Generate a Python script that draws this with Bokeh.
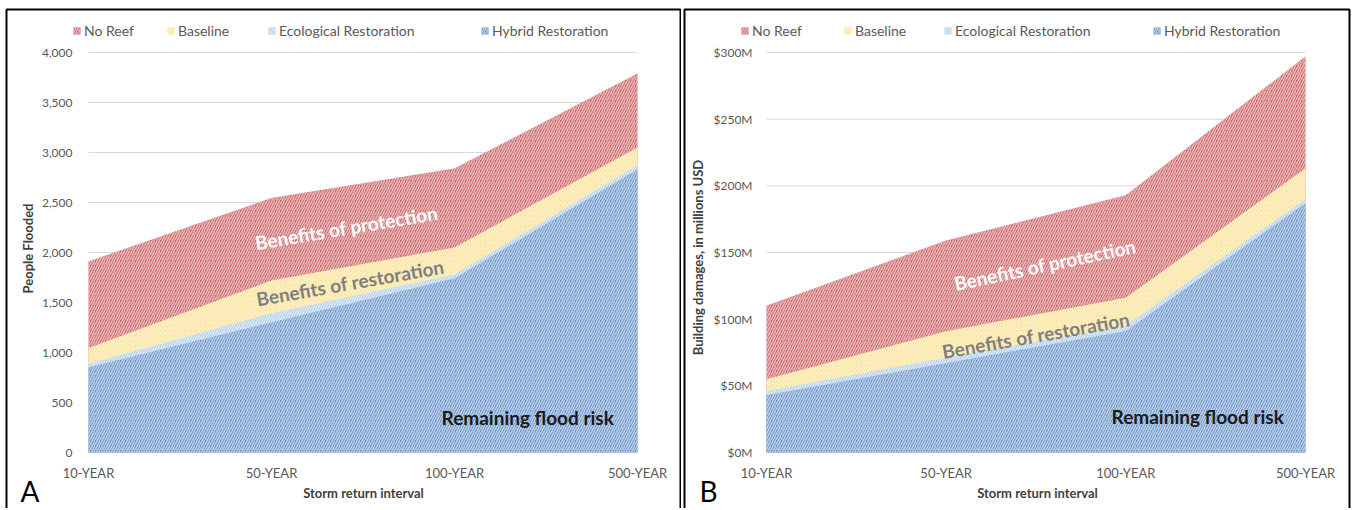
from bokeh.plotting import figure
from bokeh.models import (Range1d, FixedTicker, NumeralTickFormatter, LinearAxis, BoxAnnotation,
                          PrintfTickFormatter, Legend, LegendItem, Label, ColumnDataSource)
from bokeh.layouts import row
from bokeh.core.properties import value
from bokeh.embed import file_html
from bokeh.resources import INLINE

# ---------------- data ----------------
categories = ["10-YEAR", "50-YEAR", "100-YEAR", "500-YEAR"]
series_names = ["No Reef", "Baseline", "Ecological Restoration", "Hybrid Restoration"]

# Panel A: people flooded
people_no_reef = [1910, 2545, 2840, 3790]
people_baseline = [1045, 1720, 2050, 3050]
people_ecological = [885, 1390, 1780, 2870]
people_hybrid = [850, 1300, 1740, 2830]

# Panel B: building damages (millions USD)
damage_no_reef = [110, 159, 193, 297]
damage_baseline = [55, 91, 116, 213]
damage_ecological = [46, 71, 95, 190]
damage_hybrid = [43, 67, 91, 187]

yticks_a = [0, 500, 1000, 1500, 2000, 2500, 3000, 3500, 4000]
yticks_b = [0, 50, 100, 150, 200, 250, 300]

FONT = "Lato"
fill_colors = ["#cc5e60", "#fbe08f", "#aacdec", "#6490c8"]
H = 508


def make_panel(W, values, ymax, yticks, yfmt, ylabel, xzero_px, xmax_px, ylabel_px,
               xlabel_px, legend_px, letter, letter_px, border_px, ystandoff, notes):
    # pixel geometry of the plotting area inside the canvas (from top-left)
    yzero_px, ytop_px = 452, 52
    n = len(categories) - 1
    ppu_x = (xmax_px - xzero_px) / n
    ppu_y = (yzero_px - ytop_px) / ymax
    xr = Range1d(-xzero_px / ppu_x, (W - xzero_px) / ppu_x)
    yr = Range1d(-(H - yzero_px) / ppu_y, yzero_px / ppu_y)

    def dx(px):
        return (px - xzero_px) / ppu_x

    def dy(py):
        return (yzero_px - py) / ppu_y

    p = figure(width=W, height=H, output_backend="svg", toolbar_location=None,
               x_range=xr, y_range=yr, x_axis_location=None, y_axis_location=None,
               min_border=0)
    p.outline_line_color = None
    p.grid.visible = False
    p.background_fill_color = "white"
    p.border_fill_color = "white"

    # panel frame (screen units)
    p.add_layout(BoxAnnotation(left=border_px[0], right=border_px[1], top=H - 9, bottom=-30,
                               left_units="screen", right_units="screen",
                               top_units="screen", bottom_units="screen",
                               fill_alpha=0, line_color="black", line_alpha=1.0,
                               line_width=2))

    # horizontal gridlines spanning the category extent
    p.segment(x0=0, x1=n, y0=yticks, y1=yticks, line_color="#d9d9d9", line_width=1)

    xs = list(range(len(categories)))
    renderers = []
    for name, vals, col in zip(series_names, values, fill_colors):
        src = ColumnDataSource(dict(x=xs, y=vals))
        r = p.varea(x="x", y1=0, y2="y", source=src, fill_color=col, fill_alpha=1.0,
                    hatch_pattern="/", hatch_color="white", hatch_alpha=0.55,
                    hatch_scale=5, hatch_weight=1.6)
        renderers.append(r)

    xaxis = LinearAxis(fixed_location=0, ticker=FixedTicker(ticks=xs),
                       major_label_overrides={i: c for i, c in enumerate(categories)})
    yaxis = LinearAxis(fixed_location=0, ticker=FixedTicker(ticks=yticks), formatter=yfmt)
    for ax in (xaxis, yaxis):
        ax.axis_line_color = None
        ax.major_tick_line_color = None
        ax.minor_tick_line_color = None
        ax.major_label_text_font = FONT
        ax.major_label_text_color = "#595959"
    xaxis.major_label_text_font_size = "13px"
    yaxis.major_label_text_font_size = "12px"
    xaxis.major_label_standoff = 6
    yaxis.major_label_standoff = ystandoff
    p.add_layout(xaxis, "below")
    p.add_layout(yaxis, "left")

    # axis titles
    p.add_layout(Label(x=dx(xlabel_px[0]), y=dy(xlabel_px[1]), text="Storm return interval",
                       text_font=FONT, text_font_size="13px", text_font_style="bold",
                       text_color="#404040", text_align="center", text_baseline="middle"))
    p.add_layout(Label(x=dx(ylabel_px[0]), y=dy(ylabel_px[1]), text=ylabel, angle=90,
                       angle_units="deg", text_font=FONT, text_font_size="13px",
                       text_font_style="bold", text_color="#404040", text_align="center",
                       text_baseline="middle"))

    # legends (one per item to reproduce uneven spacing); screen units from frame bottom-left
    for name, r, lx in zip(series_names, renderers, legend_px):
        lg = Legend(items=[LegendItem(label=name, renderers=[r])], location=(lx, H - 39),
                    orientation="horizontal", background_fill_alpha=0, border_line_alpha=0,
                    glyph_width=9, glyph_height=9, label_standoff=3, padding=0, margin=0,
                    label_text_font=FONT, label_text_font_size="14px",
                    label_text_color="#595959")
        p.add_layout(lg)

    # annotation texts
    for (tx, ty, txt, ang, col, size) in notes:
        p.text(x=[tx], y=[ty], text=[txt], angle=ang, angle_units="deg",
               text_font=value(FONT), text_font_size=size, text_font_style="bold",
               text_color=col, text_align="center", text_baseline="middle")

    p.add_layout(Label(x=dx(letter_px[0]), y=dy(letter_px[1]), text=letter,
                       text_font=FONT, text_font_size="28px", text_color="black",
                       text_align="left", text_baseline="middle"))
    return p


notes_a = [
    (1.41, 2250, "Benefits of protection", 9.5, "white", "19px"),
    (1.43, 1700, "Benefits of restoration", 10, "#7f7f7f", "19px"),
    (2.40, 350, "Remaining flood risk", 0, "#1a1a1a", "19px"),
]
notes_b = [
    (1.55, 141, "Benefits of protection", 12, "white", "19px"),
    (1.50, 88, "Benefits of restoration", 10, "#7f7f7f", "19px"),
    (2.40, 27, "Remaining flood risk", 0, "#1a1a1a", "19px"),
]

# canvas A covers page x 0..681, canvas B covers page x 681..1352
pa = make_panel(681, [people_no_reef, people_baseline, people_ecological, people_hybrid],
                4000, yticks_a, NumeralTickFormatter(format="0,0"), "People Flooded",
                88, 637, (27, 248), (363, 492), [72, 166, 267, 480], "A", (20, 490),
                (6, 680), 10, notes_a)
pb = make_panel(671, [damage_no_reef, damage_baseline, damage_ecological, damage_hybrid],
                300, yticks_b, PrintfTickFormatter(format="$%dM"),
                "Building damages, in millions USD",
                85, 624, (16, 257), (356, 492), [59, 162, 262, 471], "B", (18, 490),
                (3, 668), 8, notes_b)

layout = row(pa, pb)
open("out.html", "w").write(file_html(layout, INLINE))
